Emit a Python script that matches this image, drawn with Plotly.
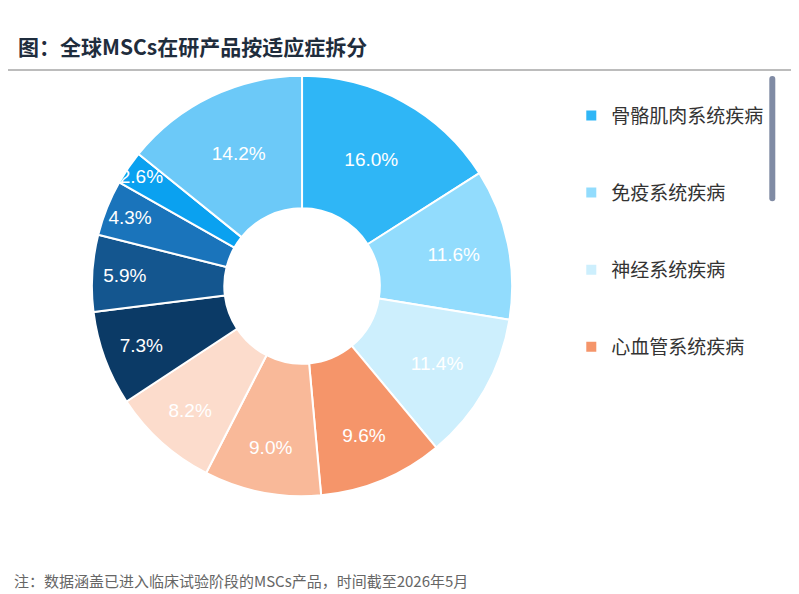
import plotly.graph_objects as go

labels = ["骨骼肌肉系统疾病","免疫系统疾病","神经系统疾病","心血管系统疾病","罕见病","消化系统疾病","呼吸系统疾病","感染性疾病","皮肤疾病","泌尿系统疾病","其它"]
values = [16.0,11.6,11.4,9.6,9.0,8.2,7.3,5.9,4.3,2.6,14.2]
colors = ["#2fb6f6","#92dcfd","#cdeffd","#f5956a","#f9b999","#fcdccc","#0b3a66","#14568f","#1a74bb","#0aa1f0","#6cc9f8"]

pad = "<span style='font-size:5px'> </span>"
legend_labels = [pad + "<br>" + l + "<br>" + pad for l in labels]

fig = go.Figure(go.Pie(
    labels=legend_labels, values=values, hole=0.37, sort=False, direction="clockwise", rotation=0,
    marker=dict(colors=colors, line=dict(color="white", width=2)),
    texttemplate="%{value:.1f}%", textposition="inside", insidetextorientation="horizontal",
    textfont=dict(color="white", size=19, family="Liberation Sans"),
    domain=dict(x=[0.105,0.631], y=[0.175,0.889])))

fig.update_layout(
    width=799, height=594, margin=dict(l=0,r=0,t=0,b=0), paper_bgcolor="white",
    font=dict(family="Noto Sans CJK SC", color="#333333"),
    uniformtext=dict(minsize=18, mode="show"),
    legend=dict(x=0.705, y=0.805, xanchor="left", yanchor="top", font=dict(size=19, color="#333333"),
                tracegroupgap=0, itemwidth=30, valign="middle"),
    shapes=[dict(type="line", xref="paper", yref="paper", x0=0, x1=1, y0=1-62/594, y1=1-62/594,
                 line=dict(color="#a6a6a6", width=1.5))],
    annotations=[
        dict(text="<b>图：全球MSCs在研产品按适应症拆分</b>", xref="paper", yref="paper", x=0.01, y=1-38/594,
             xanchor="left", yanchor="middle", showarrow=False, font=dict(size=21, color="#1f2d3d")),
        dict(text="注：数据涵盖已进入临床试验阶段的MSCs产品，时间截至2026年5月", xref="paper", yref="paper",
             x=0.005, y=1-572/594, xanchor="left", yanchor="middle", showarrow=False,
             font=dict(size=15, color="#666666")),
    ])
fig.write_html("out.html")
